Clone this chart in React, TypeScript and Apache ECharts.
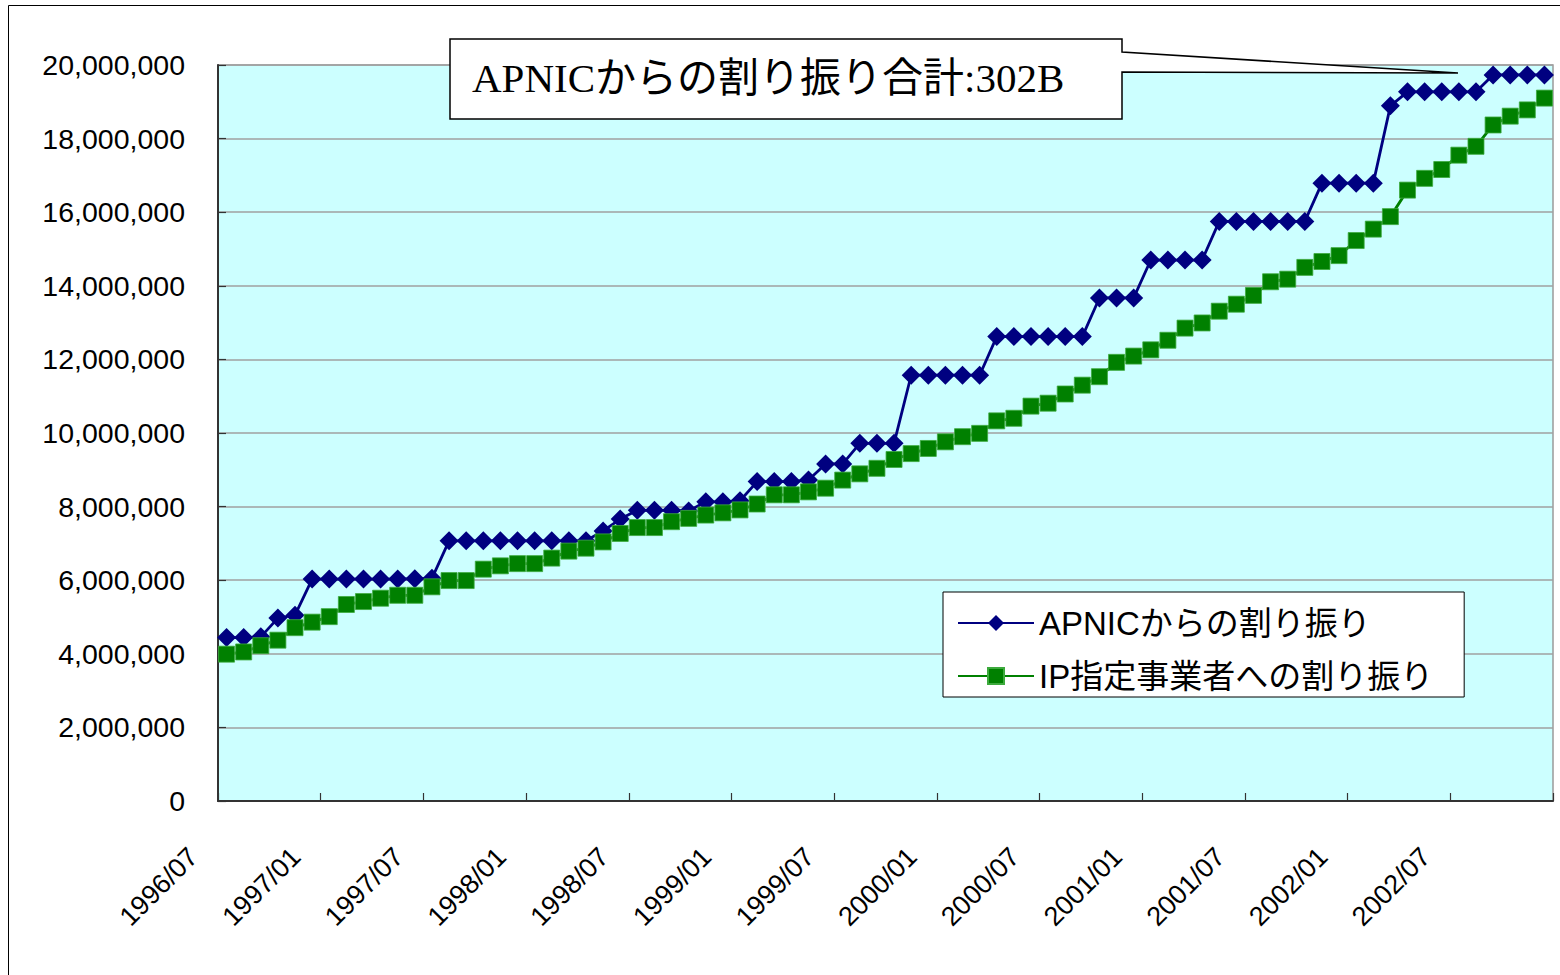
import React, { useEffect, useRef } from "react";
import * as echarts from "echarts";

const categories = [
  "1996/07", "1996/08", "1996/09", "1996/10", "1996/11", "1996/12",
  "1997/01", "1997/02", "1997/03", "1997/04", "1997/05", "1997/06",
  "1997/07", "1997/08", "1997/09", "1997/10", "1997/11", "1997/12",
  "1998/01", "1998/02", "1998/03", "1998/04", "1998/05", "1998/06",
  "1998/07", "1998/08", "1998/09", "1998/10", "1998/11", "1998/12",
  "1999/01", "1999/02", "1999/03", "1999/04", "1999/05", "1999/06",
  "1999/07", "1999/08", "1999/09", "1999/10", "1999/11", "1999/12",
  "2000/01", "2000/02", "2000/03", "2000/04", "2000/05", "2000/06",
  "2000/07", "2000/08", "2000/09", "2000/10", "2000/11", "2000/12",
  "2001/01", "2001/02", "2001/03", "2001/04", "2001/05", "2001/06",
  "2001/07", "2001/08", "2001/09", "2001/10", "2001/11", "2001/12",
  "2002/01", "2002/02", "2002/03", "2002/04", "2002/05", "2002/06",
  "2002/07", "2002/08", "2002/09", "2002/10", "2002/11", "2002/12",
];

// APNICからの割り振り (cumulative addresses)
const apnicAllocations = [
  4440000, 4440000, 4460000, 4970000, 5050000, 6030000,
  6030000, 6030000, 6030000, 6030000, 6030000, 6040000,
  6050000, 7070000, 7070000, 7070000, 7070000, 7070000,
  7070000, 7070000, 7070000, 7070000, 7340000, 7660000,
  7900000, 7900000, 7900000, 7880000, 8130000, 8130000,
  8160000, 8680000, 8680000, 8680000, 8720000, 9160000,
  9160000, 9720000, 9720000, 9720000, 11570000, 11570000,
  11570000, 11570000, 11570000, 12620000, 12620000, 12620000,
  12620000, 12620000, 12620000, 13670000, 13670000, 13670000,
  14700000, 14700000, 14700000, 14700000, 15750000, 15750000,
  15750000, 15750000, 15750000, 15750000, 16790000, 16790000,
  16790000, 16790000, 18890000, 19270000, 19270000, 19270000,
  19270000, 19270000, 19730000, 19730000, 19730000, 19730000,
];

// IP指定事業者への割り振り (cumulative addresses)
const ipDesignatedAllocations = [
  3990000, 4050000, 4220000, 4370000, 4710000, 4860000,
  5010000, 5340000, 5420000, 5510000, 5590000, 5590000,
  5820000, 5990000, 5990000, 6300000, 6390000, 6450000,
  6450000, 6600000, 6790000, 6870000, 7040000, 7270000,
  7430000, 7430000, 7590000, 7680000, 7770000, 7830000,
  7910000, 8070000, 8320000, 8320000, 8400000, 8500000,
  8720000, 8890000, 9040000, 9280000, 9440000, 9580000,
  9760000, 9900000, 9990000, 10330000, 10400000, 10730000,
  10810000, 11060000, 11300000, 11530000, 11920000, 12090000,
  12260000, 12520000, 12850000, 12990000, 13310000, 13500000,
  13740000, 14110000, 14180000, 14500000, 14660000, 14820000,
  15230000, 15540000, 15880000, 16600000, 16920000, 17160000,
  17550000, 17790000, 18370000, 18610000, 18780000, 19100000,
];

const yMin = 0;
const yMax = 20000000;
const yInterval = 2000000;

const seriesNames = ["APNICからの割り振り", "IP指定事業者への割り振り"];
const calloutText = "APNICからの割り振り合計:302B";

const SANS = "'Liberation Sans', Arial, 'Noto Sans CJK JP', sans-serif";
const SERIF = "'Liberation Serif', 'Times New Roman', 'Noto Sans CJK JP', serif";

export default function App() {
  const ref = useRef<HTMLDivElement>(null);

  useEffect(() => {
    if (!ref.current) return;
    const chart = echarts.init(ref.current, null, { renderer: "svg" });
    chart.setOption({
      animation: false,
      backgroundColor: "#ffffff",
      grid: {
        left: 218,
        top: 65,
        width: 1335,
        height: 736,
        show: true,
        backgroundColor: "#CCFFFF",
        borderColor: "#9a9a9a",
        borderWidth: 1.5,
      },
      xAxis: {
        type: "category",
        data: categories,
        boundaryGap: true,
        axisLine: { show: true, lineStyle: { color: "#333333", width: 2 } },
        axisTick: {
          show: true,
          inside: true,
          length: 8,
          interval: 5,
          lineStyle: { color: "#333333", width: 1.2 },
        },
        axisLabel: {
          interval: 5,
          rotate: 45,
          margin: 18,
          padding: [0, 47, 0, 0],
          color: "#000000",
          fontSize: 27,
          fontFamily: SANS,
        },
        splitLine: { show: false },
      },
      yAxis: {
        type: "value",
        min: yMin,
        max: yMax,
        interval: yInterval,
        axisLine: { show: true, lineStyle: { color: "#333333", width: 2 } },
        axisTick: {
          show: true,
          inside: true,
          length: 8,
          lineStyle: { color: "#333333", width: 1.2 },
        },
        axisLabel: {
          margin: 33,
          color: "#000000",
          fontSize: 28.5,
          fontFamily: SANS,
          formatter: (v: number) => v.toLocaleString("en-US"),
        },
        splitLine: { show: true, lineStyle: { color: "#a0a0a0", width: 1.5 } },
      },
      legend: {
        orient: "vertical",
        left: 943,
        top: 592,
        backgroundColor: "#ffffff",
        borderColor: "#000000",
        borderWidth: 1,
        padding: [13, 31, 3, 14],
        itemWidth: 76,
        itemHeight: 20,
        itemGap: 17,
        selectedMode: false,
        textStyle: {
          color: "#000000",
          fontSize: 33,
          lineHeight: 36,
          fontFamily: SANS,
        },
        data: seriesNames,
      },
      series: [
        {
          name: seriesNames[0],
          type: "line",
          data: apnicAllocations,
          symbol: "diamond",
          symbolSize: [19, 19],
          showAllSymbol: true,
          lineStyle: { color: "#000080", width: 2.8 },
          itemStyle: { color: "#000080" },
        },
        {
          name: seriesNames[1],
          type: "line",
          data: ipDesignatedAllocations,
          symbol: "rect",
          symbolSize: [16, 16],
          showAllSymbol: true,
          lineStyle: { color: "#008000", width: 2.8 },
          itemStyle: { color: "#008000", borderColor: "#3daa3d", borderWidth: 0.8 },
        },
      ],
      graphic: [
        {
          type: "rect",
          z: 0,
          silent: true,
          shape: { x: 8.5, y: 5.5, width: 1600, height: 1000 },
          style: { fill: "none", stroke: "#000000", lineWidth: 1 },
        },
        {
          type: "polygon",
          z: 100,
          silent: true,
          shape: {
            points: [
              [450, 39],
              [1122, 39],
              [1122, 52],
              [1458, 73],
              [1122, 72],
              [1122, 119],
              [450, 119],
            ],
          },
          style: { fill: "#ffffff", stroke: "#000000", lineWidth: 1.5 },
        },
        {
          type: "text",
          z: 101,
          silent: true,
          x: 472,
          y: 78,
          style: {
            text: calloutText,
            fill: "#000000",
            fontSize: 41,
            fontFamily: SERIF,
            verticalAlign: "middle",
            align: "left",
          },
        },
      ],
    });
    return () => chart.dispose();
  }, []);

  return (
    <div
      ref={ref}
      style={{
        position: "absolute",
        left: 0,
        top: 0,
        width: 1560,
        height: 975,
        background: "#ffffff",
      }}
    />
  );
}
